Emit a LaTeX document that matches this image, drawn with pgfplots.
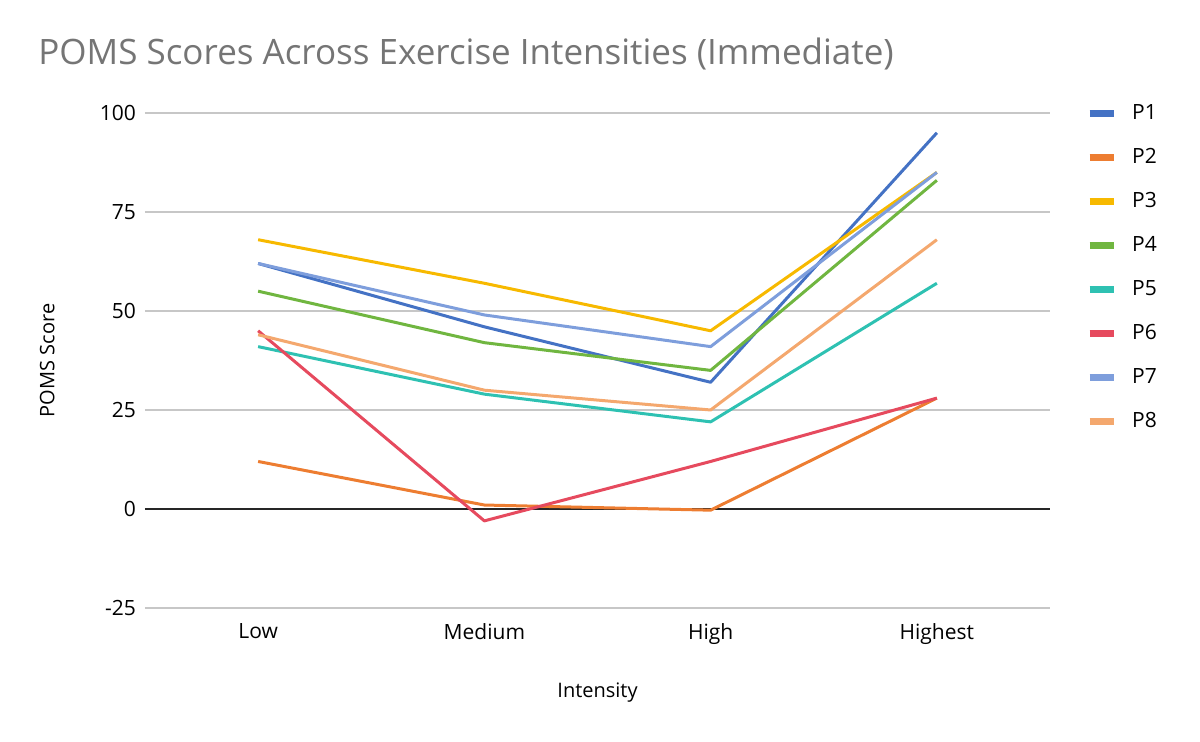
\documentclass[border=0pt]{standalone}
\usepackage{pgfplots}
\pgfplotsset{compat=1.18}
\usepackage{fontspec}
\setmainfont{Open Sans}
\definecolor{c1}{HTML}{4472C4}
\definecolor{c2}{HTML}{ED7D31}
\definecolor{c3}{HTML}{F7B900}
\definecolor{c4}{HTML}{70B640}
\definecolor{c5}{HTML}{2EC1B2}
\definecolor{c6}{HTML}{E64A5E}
\definecolor{c7}{HTML}{7E9EDC}
\definecolor{c8}{HTML}{F4A86E}
\definecolor{titlegray}{HTML}{757575}
\begin{document}
\begin{tikzpicture}
\path[use as bounding box] (0,0) rectangle (600pt,371pt);
\node[anchor=west, text=titlegray, font=\fontsize{17.5}{20}\selectfont, inner sep=0pt] at (19pt,344pt) {POMS Scores Across Exercise Intensities (Immediate)};
\begin{axis}[
  at={(72.5pt,67pt)}, anchor=south west,
  scale only axis, width=452.5pt, height=247.5pt,
  xmin=-0.5, xmax=3.5, ymin=-25, ymax=100,
  xtick={0,1,2,3}, xticklabels={Low,Medium,High,Highest},
  ytick={-25,0,25,50,75,100},
  axis line style={draw=none},
  tick style={draw=none},
  ymajorgrids, grid style={draw=black!22, line width=0.6pt},
  tick label style={font=\fontsize{10.5}{12}\selectfont},
  /pgf/number format/assume math mode=true,
  yticklabel style={xshift=-1pt},
  xticklabel style={yshift=-4pt},
  xlabel={Intensity}, ylabel={POMS Score},
  label style={font=\fontsize{10.5}{12}\selectfont},
  every axis x label/.style={at={(axis description cs:0.5,-0.17)}, anchor=center},
  every axis y label/.style={at={(axis description cs:-0.108,0.5)}, anchor=center, rotate=90},
  every axis plot/.append style={line width=1.5pt, mark=none, line join=round},
  legend style={at={(1.0396,1.017)}, anchor=north west, draw=none, fill=none,
    font=\fontsize{10.5}{12}\selectfont, row sep=14.5pt, inner sep=0pt,
    nodes={inner sep=0pt, text height=7.5pt, text depth=0pt},
    /tikz/column 1/.style={column sep=7.5pt},
    legend cell align=left},
  legend image code/.code={\draw[line width=3.5pt,#1] (0pt,-0.75pt) -- (12pt,-0.75pt);},
]
\draw[black!85, line width=0.7pt] (axis cs:-0.5,0) -- (axis cs:3.5,0);
\addplot[c1] coordinates {(0,62) (1,46) (2,32) (3,95)};
\addplot[c2] coordinates {(0,12) (1,1) (2,-0.3) (3,28)};
\addplot[c3] coordinates {(0,68) (1,57) (2,45) (3,85)};
\addplot[c4] coordinates {(0,55) (1,42) (2,35) (3,83)};
\addplot[c5] coordinates {(0,41) (1,29) (2,22) (3,57)};
\addplot[c6] coordinates {(0,45) (1,-3) (2,12) (3,28)};
\addplot[c7] coordinates {(0,62) (1,49) (2,41) (3,85)};
\addplot[c8] coordinates {(0,44) (1,30) (2,25) (3,68)};
\legend{P1,P2,P3,P4,P5,P6,P7,P8}
\end{axis}
\end{tikzpicture}
\end{document}
